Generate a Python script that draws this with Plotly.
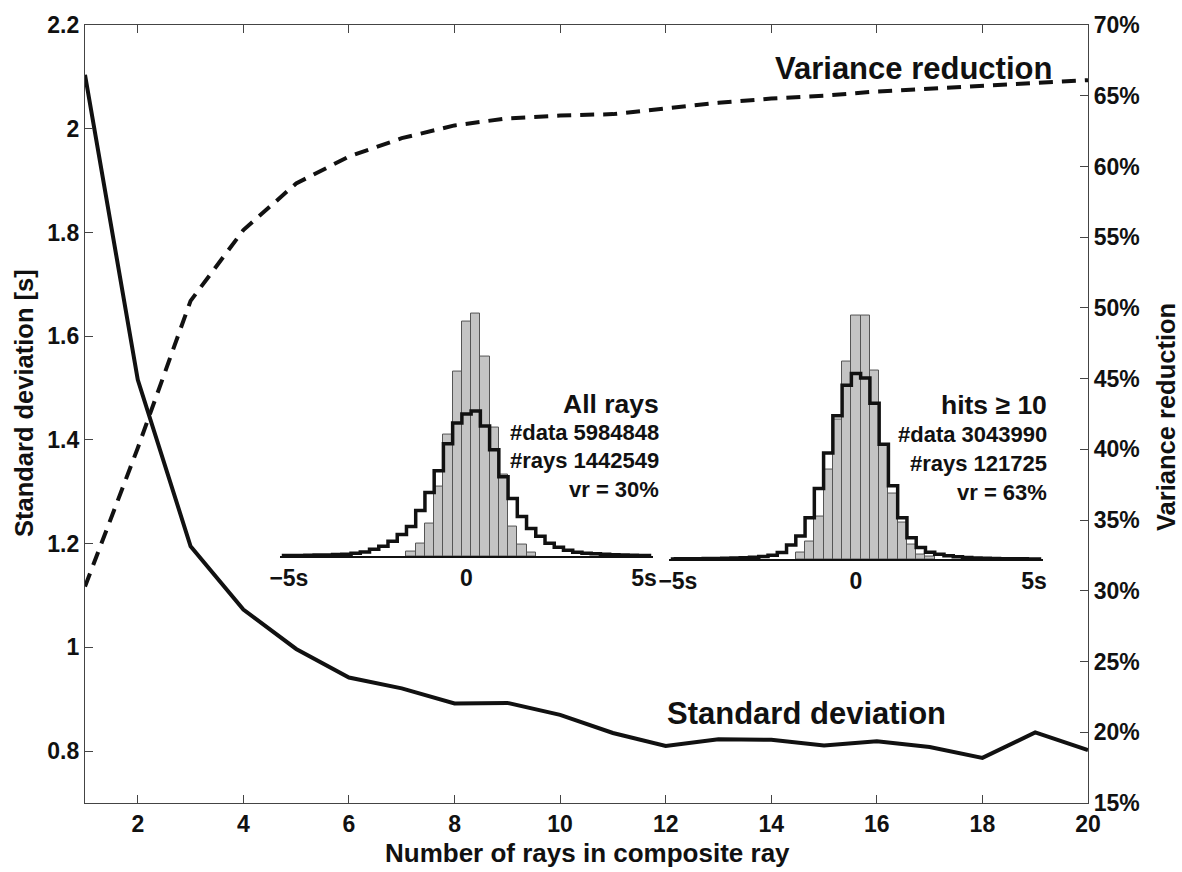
import plotly.graph_objects as go

# ---------------- data ----------------
n_rays = list(range(1, 21))
std_dev = [2.104, 1.516, 1.195, 1.073, 0.997, 0.942, 0.921, 0.892, 0.893, 0.870,
           0.835, 0.810, 0.823, 0.822, 0.811, 0.819, 0.808, 0.787, 0.836, 0.802]
var_red = [30.3, 40.1, 50.5, 55.5, 58.8, 60.7, 62.0, 62.9, 63.4, 63.6,
           63.7, 64.1, 64.5, 64.8, 65.0, 65.3, 65.5, 65.7, 65.9, 66.1]

bin_w = 0.26
# inset 1 (All rays)
h1_bins = list(range(-20, 21))
h1_outline = [0.7, 0.8, 0.9, 1.0, 1.2, 1.4, 1.7, 2.0, 3.0, 4.3, 7, 10, 15, 22, 30, 46, 64, 86, 113, 134,
              143, 146, 131, 107, 80, 58, 40, 28, 20, 13, 9, 6, 4, 3, 2.5, 2.0, 1.6, 1.3, 1.0, 0.8, 0.7]
h1_gray_bins = list(range(-6, 8))
h1_gray = [4.3, 12.3, 32.7, 70, 122.7, 185.7, 235.7, 244.3, 200.7, 129, 81.7, 30, 11.7, 3.3]
# inset 2 (hits >= 10)
h2_bins = list(range(-20, 21))
h2_outline = [0.3, 0.4, 0.5, 0.6, 0.7, 0.8, 1.0, 1.2, 1.5, 2.0, 2.8, 4.0,
              6.7, 14.3, 23.3, 41.7, 71, 106.7, 144.3, 175, 186.7, 182.3, 156.7, 115.7, 74, 41.7,
              21.7, 11.7, 7, 5, 3.5, 2.5, 1.8,
              1.3, 1.0, 0.8, 0.6, 0.5, 0.4, 0.35, 0.3]
h2_gray_bins = list(range(-6, 9))
h2_gray = [6.7, 17.7, 43.3, 90, 140, 199, 245, 245, 190, 115.7, 65.7, 37, 15, 5, 2.3]

inset_ticks = [-5, 0, 5]
inset_ticktext = ["\u22125s", "0", "5s"]

# ---------------- layout geometry ----------------
W, H = 1182, 872
L, R, T, B = 85, 94, 21, 69
pw, ph = W - L - R, H - T - B

def fx(px):
    return (px - L) / pw

def fy(py):
    return (H - B - py) / ph

FONT = "Liberation Sans, Arial, Helvetica, sans-serif"

fig = go.Figure()

fig.add_trace(go.Scatter(x=n_rays, y=std_dev, mode="lines",
                         line=dict(color="#111", width=4), xaxis="x", yaxis="y",
                         showlegend=False))
fig.add_trace(go.Scatter(x=n_rays, y=var_red, mode="lines",
                         line=dict(color="#111", width=4, dash="14px,9px"),
                         xaxis="x", yaxis="y2", showlegend=False))

def add_inset(bins, outline, gbins, gray, xa, ya):
    xg = [b * bin_w for b in gbins]
    fig.add_trace(go.Bar(x=xg, y=gray, width=bin_w, marker=dict(color="#c4c4c4",
                         line=dict(color="#555", width=1)), xaxis=xa, yaxis=ya,
                         showlegend=False))
    xo = [b * bin_w for b in bins]
    fig.add_trace(go.Scatter(x=xo, y=outline, mode="lines", line_shape="hvh",
                             line=dict(color="#111", width=3.5), xaxis=xa, yaxis=ya,
                             showlegend=False))

add_inset(h1_bins, h1_outline, h1_gray_bins, h1_gray, "x3", "y3")
add_inset(h2_bins, h2_outline, h2_gray_bins, h2_gray, "x4", "y4")

tickfont = dict(family=FONT, size=23, color="#111", weight="bold")

inset_h = 250 / ph
fig.update_layout(
    width=W, height=H,
    margin=dict(l=L, r=R, t=T, b=B, pad=0),
    paper_bgcolor="white", plot_bgcolor="white",
    font=dict(family=FONT, color="#111", weight="bold"),
    bargap=0,
    xaxis=dict(range=[1, 20], tickvals=list(range(2, 21, 2)), ticks="inside", ticklen=8,
               tickcolor="#444", showline=True, linecolor="#444", linewidth=1.3,
               mirror="ticks", showgrid=False, zeroline=False, tickfont=tickfont,
               domain=[0, 1]),
    yaxis=dict(range=[0.7, 2.2], tickvals=[0.8, 1, 1.2, 1.4, 1.6, 1.8, 2, 2.2],
               ticktext=["0.8", "1", "1.2", "1.4", "1.6", "1.8", "2", "2.2"],
               ticks="inside", ticklen=8, tickcolor="#444", showline=True,
               linecolor="#444", linewidth=1.3, showgrid=False, zeroline=False,
               tickfont=tickfont),
    yaxis2=dict(range=[15, 70], tickvals=list(range(15, 71, 5)),
                ticktext=[f"{v}%" for v in range(15, 71, 5)], overlaying="y",
                side="right", ticks="inside", ticklen=8, tickcolor="#444",
                showline=True, linecolor="#444", linewidth=1.3, showgrid=False,
                zeroline=False, tickfont=tickfont, anchor="x"),
    xaxis3=dict(domain=[fx(280), fx(653)], range=[-5.25, 5.25], tickvals=inset_ticks,
                ticktext=inset_ticktext, showline=True, linecolor="#111", linewidth=1.5,
                ticks="", showgrid=False, zeroline=False, anchor="y3",
                tickfont=tickfont),
    yaxis3=dict(domain=[fy(555), fy(555) + inset_h], range=[0, 250], visible=False,
                anchor="x3"),
    xaxis4=dict(domain=[fx(669), fx(1043)], range=[-5.25, 5.25], tickvals=inset_ticks,
                ticktext=inset_ticktext, showline=True, linecolor="#111", linewidth=1.5,
                ticks="", showgrid=False, zeroline=False, anchor="y4",
                tickfont=tickfont),
    yaxis4=dict(domain=[fy(558), fy(558) + inset_h], range=[0, 250], visible=False,
                anchor="x4"),
)

def annp(text, px, py, size, xanchor="center", yanchor="middle", angle=0):
    fig.add_annotation(text=text, x=fx(px), y=fy(py), xref="paper", yref="paper",
                       showarrow=False, xanchor=xanchor, yanchor=yanchor, textangle=angle,
                       font=dict(family=FONT, size=size, color="#111", weight="bold"))

annp("Standard deviation [s]", 24, 401, 25.5, angle=-90)
annp("Variance reduction", 1166, 415, 25.5, angle=-90)
annp("Number of rays in composite ray", 587, 853, 26)
annp("Variance reduction", 913, 65, 31)
annp("Standard deviation", 806, 713, 31)

annp("All rays", 661, 402, 26.5, xanchor="right")
annp("#data 5984848", 661, 431, 22, xanchor="right")
annp("#rays 1442549", 661, 459, 22, xanchor="right")
annp("vr = 30%", 661, 488, 22, xanchor="right")

annp("hits \u2265 10", 1049, 403, 26.5, xanchor="right")
annp("#data 3043990", 1049, 433, 22, xanchor="right")
annp("#rays 121725", 1049, 462, 22, xanchor="right")
annp("vr = 63%", 1049, 491, 22, xanchor="right")

fig.write_html("out.html")
